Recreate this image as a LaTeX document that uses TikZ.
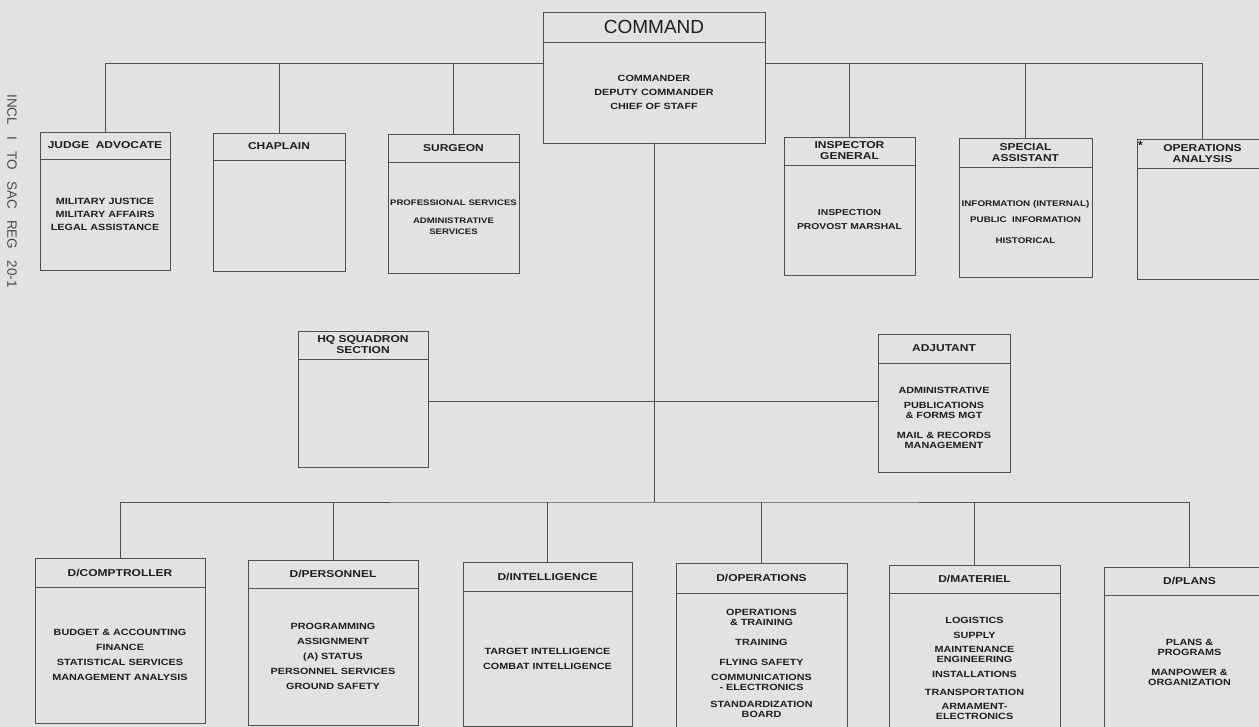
\documentclass[tikz,border=0pt]{standalone}
\usepackage{fontspec}
\setmainfont{Liberation Sans}
\newfontfamily\letterfont[FakeStretch=1.2]{Liberation Sans}
\usepackage{tikz}
\usetikzlibrary{positioning}
\usepackage{xcolor}
\definecolor{paper}{RGB}{226,226,224}
\definecolor{ink}{RGB}{30,30,30}
\definecolor{rulegray}{RGB}{80,80,80}
\tikzstyle{link} = [draw=rulegray, line width=0.7pt]
\tikzstyle{headbox} = [rectangle, draw=rulegray, line width=0.7pt, outer sep=0pt, minimum height=28pt, inner sep=1pt, align=center, text=ink, font=\letterfont\bfseries\fontsize{10}{11}\selectfont]
\tikzstyle{bodybox} = [rectangle, draw=rulegray, line width=0.7pt, outer sep=0pt, inner sep=1pt, align=center, text=ink, font=\letterfont\bfseries\fontsize{9}{10}\selectfont]

\begin{document}
\begin{tikzpicture}[x=1pt, y=-1pt, node distance=0pt]
    \useasboundingbox (0,0) rectangle (1259,727);
    \clip (0,0) rectangle (1259,727);
    \fill[paper] (0,0) rectangle (1259,727);

    % Command
    \node[headbox, minimum width=222pt, minimum height=30pt, font=\fontsize{19}{20}\selectfont] (cmdhead) at (654,27) {COMMAND};
    \node[bodybox, minimum width=222pt, minimum height=101pt, below=of cmdhead, font=\letterfont\bfseries\fontsize{9}{14}\selectfont] (cmdbody) {COMMANDER\\DEPUTY COMMANDER\\CHIEF OF STAFF};

    % Staff, top row
    \node[headbox, minimum width=130pt, minimum height=27pt] (judgehead) at (105,145.5) {JUDGE~ ADVOCATE};
    \node[bodybox, minimum width=130pt, minimum height=111pt, below=of judgehead, font=\letterfont\bfseries\fontsize{9}{13}\selectfont] (judgebody) {MILITARY JUSTICE\\MILITARY AFFAIRS\\LEGAL ASSISTANCE};
    \node[headbox, minimum width=132pt, minimum height=27pt] (chaphead) at (279,146.5) {CHAPLAIN};
    \node[bodybox, minimum width=132pt, minimum height=111pt, below=of chaphead] (chapbody) {};
    \node[headbox, minimum width=131pt] (surghead) at (453.5,148) {SURGEON};
    \node[bodybox, minimum width=131pt, minimum height=111pt, below=of surghead, font=\letterfont\bfseries\fontsize{8}{11}\selectfont] (surgbody) {PROFESSIONAL SERVICES\\[7pt]ADMINISTRATIVE\\SERVICES};
    \node[headbox, minimum width=131pt] (insphead) at (849.5,151) {INSPECTOR\\GENERAL};
    \node[bodybox, minimum width=131pt, minimum height=110pt, below=of insphead, font=\letterfont\bfseries\fontsize{8.6}{14}\selectfont] (inspbody) {INSPECTION\\PROVOST MARSHAL};
    \node[headbox, minimum width=133pt, minimum height=29pt] (spechead) at (1025.5,152.5) {SPECIAL\\ASSISTANT};
    \node[bodybox, minimum width=133pt, minimum height=110pt, below=of spechead, font=\letterfont\bfseries\fontsize{8.2}{11}\selectfont] (specbody) {INFORMATION (INTERNAL)\\[5pt]PUBLIC~ INFORMATION\\[10pt]HISTORICAL};
    \node[headbox, minimum width=131pt, minimum height=29pt] (analhead) at (1202.5,153.5) {OPERATIONS\\ANALYSIS};
    \node[bodybox, minimum width=131pt, minimum height=111pt, below=of analhead] (analbody) {};
    \node[text=ink, font=\bfseries\fontsize{12}{12}\selectfont, anchor=north west, inner sep=1pt] (star) at (1137,140) {*};

    % Middle row
    \node[headbox, minimum width=130pt] (hqhead) at (363,345) {HQ SQUADRON\\SECTION};
    \node[bodybox, minimum width=130pt, minimum height=108pt, below=of hqhead] (hqbody) {};
    \node[headbox, minimum width=132pt, minimum height=29pt] (adjhead) at (944,348.5) {ADJUTANT};
    \node[bodybox, minimum width=132pt, minimum height=109pt, below=of adjhead] (adjbody) {ADMINISTRATIVE\\[5pt]PUBLICATIONS\\\& FORMS MGT\\[10pt]MAIL \& RECORDS\\MANAGEMENT};

    % Directorates
    \node[headbox, minimum width=170pt, minimum height=29pt] (comphead) at (120,572.5) {D/COMPTROLLER};
    \node[bodybox, minimum width=170pt, minimum height=136pt, below=of comphead, font=\letterfont\bfseries\fontsize{9}{15}\selectfont] (compbody) {BUDGET \& ACCOUNTING\\FINANCE\\STATISTICAL SERVICES\\MANAGEMENT ANALYSIS};
    \node[headbox, minimum width=170pt] (perhead) at (333,574) {D/PERSONNEL};
    \node[bodybox, minimum width=170pt, minimum height=137pt, below=of perhead, font=\letterfont\bfseries\fontsize{9}{15}\selectfont] (perbody) {PROGRAMMING\\ASSIGNMENT\\(A) STATUS\\PERSONNEL SERVICES\\GROUND SAFETY};
    \node[headbox, minimum width=169pt, minimum height=29pt] (intelhead) at (547.5,576.5) {D/INTELLIGENCE};
    \node[bodybox, minimum width=169pt, minimum height=135pt, below=of intelhead, font=\letterfont\bfseries\fontsize{9}{15}\selectfont] (intelbody) {TARGET INTELLIGENCE\\COMBAT INTELLIGENCE};
    \node[headbox, minimum width=171pt, minimum height=30pt] (operhead) at (761.5,578) {D/OPERATIONS};
    \node[bodybox, minimum width=171pt, minimum height=140pt, below=of operhead] (operbody) {OPERATIONS\\\& TRAINING\\[10pt]TRAINING\\[10pt]FLYING SAFETY\\[5pt]COMMUNICATIONS\\- ELECTRONICS\\[7pt]STANDARDIZATION\\BOARD};
    \node[headbox, minimum width=171pt] (mathead) at (974.5,579) {D/MATERIEL};
    \node[bodybox, minimum width=171pt, minimum height=150pt, below=of mathead] (matbody) {LOGISTICS\\[5pt]SUPPLY\\[4pt]MAINTENANCE\\ENGINEERING\\[5pt]INSTALLATIONS\\[8pt]TRANSPORTATION\\[4pt]ARMAMENT-\\ELECTRONICS};
    \node[headbox, minimum width=171pt] (planshead) at (1189.5,581) {D/PLANS};
    \node[bodybox, minimum width=171pt, minimum height=135pt, below=of planshead] (plansbody) {PLANS \&\\PROGRAMS\\[10pt]MANPOWER \&\\ORGANIZATION};

    % Side note
    \node[rotate=-90, text=ink!80, font=\fontsize{13.5}{14}\selectfont] (incl) at (12,191) {INCL~~~I~~~TO~~~SAC~~~REG~~~20-1};

    % Lines
    \coordinate (topL) at (543,63);
    \coordinate (topR) at (765,63);
    \coordinate (midbus) at (654,401);
    \coordinate (lowbus) at (654,502);
    \draw[link] (judgehead.north) |- (topL);
    \draw[link] (chaphead.north) -- (chaphead.north |- topL);
    \draw[link] (surghead.north) -- (surghead.north |- topL);
    \draw[link] (analhead.north) |- (topR);
    \draw[link] (insphead.north) -- (insphead.north |- topR);
    \draw[link] (spechead.north) -- (spechead.north |- topR);
    \draw[link] (cmdbody.south) -- (lowbus);
    \draw[link] (hqbody.east |- midbus) -- (adjbody.west |- midbus);
    \draw[link] (comphead.north) |- (lowbus) -| (planshead.north);
    \draw[link] (perhead.north) -- (perhead.north |- lowbus);
    \draw[link] (intelhead.north) -- (intelhead.north |- lowbus);
    \draw[link] (operhead.north) -- (operhead.north |- lowbus);
    \draw[link] (mathead.north) -- (mathead.north |- lowbus);
\end{tikzpicture}
\end{document}
